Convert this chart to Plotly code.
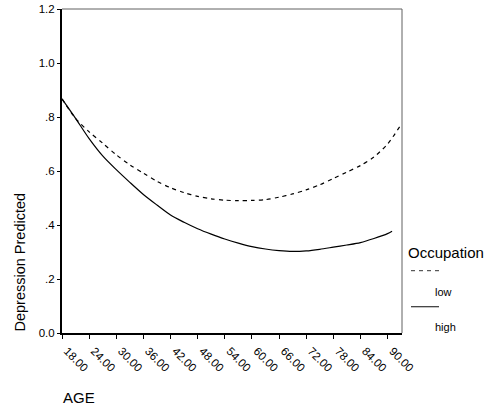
import plotly.graph_objects as go

# Predicted depression by age, for low and high occupation groups
age_low = [18, 21, 24, 27, 30, 33, 36, 39, 42, 45, 48, 51, 54, 57, 60, 63, 66, 69, 72, 75, 78, 81, 84, 87, 90, 93]
pred_low = [0.867, 0.795, 0.745, 0.703, 0.660, 0.623, 0.592, 0.562, 0.538, 0.520, 0.506, 0.497, 0.492, 0.490,
            0.491, 0.494, 0.503, 0.515, 0.530, 0.549, 0.572, 0.596, 0.620, 0.652, 0.700, 0.772]

age_high = [18, 21, 24, 27, 30, 33, 36, 39, 42, 45, 48, 51, 54, 57, 60, 63, 66, 69, 72, 75, 78, 81, 84, 87, 90, 91]
pred_high = [0.867, 0.795, 0.720, 0.656, 0.605, 0.558, 0.513, 0.474, 0.437, 0.410, 0.386, 0.366, 0.348, 0.333,
             0.320, 0.311, 0.305, 0.302, 0.304, 0.310, 0.318, 0.326, 0.335, 0.350, 0.368, 0.377]

x_ticks = [18, 24, 30, 36, 42, 48, 54, 60, 66, 72, 78, 84, 90]
x_tick_text = [f"{v:.2f}" for v in x_ticks]
y_ticks = [0.0, 0.2, 0.4, 0.6, 0.8, 1.0, 1.2]
y_tick_text = ["0.0", ".2", ".4", ".6", ".8", "1.0", "1.2"]

FONT = "Liberation Sans, Arial, sans-serif"

fig = go.Figure()
fig.add_trace(go.Scatter(
    x=age_low, y=pred_low, mode="lines", name="low",
    line=dict(color="black", width=1.2, dash="4px,4px", shape="spline", smoothing=0.8),
))
fig.add_trace(go.Scatter(
    x=age_high, y=pred_high, mode="lines", name="high",
    line=dict(color="black", width=1.2, shape="spline", smoothing=0.8),
))

W, H = 489, 410
ML, MR, MT, MB = 62, 87, 9, 77

fig.update_layout(
    width=W, height=H,
    margin=dict(l=ML, r=MR, t=MT, b=MB, pad=0),
    paper_bgcolor="white", plot_bgcolor="white",
    showlegend=False,
    font=dict(family=FONT, color="black", size=11),
    xaxis=dict(
        range=[18, 93.2], tickvals=x_ticks, ticktext=x_tick_text, tickangle=45,
        ticks="outside", ticklen=4, tickwidth=1, tickcolor="black",
        ticklabelshift=5, ticklabelstandoff=1,
        showline=True, linecolor="black", linewidth=2,
        showgrid=False, zeroline=False, automargin=False,
        tickfont=dict(size=11.5, family=FONT),
    ),
    yaxis=dict(
        range=[0, 1.2], tickvals=y_ticks, ticktext=y_tick_text,
        ticks="outside", ticklen=3, tickwidth=1, tickcolor="black",
        showline=True, linecolor="black", linewidth=2,
        showgrid=False, zeroline=False, automargin=False,
        tickfont=dict(size=11.5, family=FONT),
    ),
)

# Thin grey frame on the top and right of the plot area
fig.add_shape(type="line", xref="paper", yref="paper", x0=0, x1=1, y0=1, y1=1,
              line=dict(color="#606060", width=1))
fig.add_shape(type="line", xref="paper", yref="paper", x0=1, x1=1, y0=0, y1=1,
              line=dict(color="#606060", width=1))

pw = W - ML - MR
ph = H - MT - MB


def px_x(px):
    return (px - ML) / pw


def px_y(py):
    return (H - MB - py) / ph


# Axis titles
fig.add_annotation(text="Depression Predicted", textangle=-90, xref="paper", yref="paper",
                   x=px_x(19), y=px_y(334), xanchor="center", yanchor="bottom",
                   showarrow=False, font=dict(size=14.5, family=FONT))
fig.add_annotation(text="AGE", xref="paper", yref="paper",
                   x=px_x(61), y=px_y(397.5), xanchor="left", yanchor="middle",
                   showarrow=False, font=dict(size=15, family=FONT))

# Legend: title, line samples with labels beneath
fig.add_annotation(text="Occupation", xref="paper", yref="paper",
                   x=px_x(406), y=px_y(252), xanchor="left", yanchor="middle",
                   showarrow=False, font=dict(size=15, family=FONT))
fig.add_shape(type="line", xref="paper", yref="paper",
              x0=px_x(411), x1=px_x(440), y0=px_y(270.7), y1=px_y(270.7),
              line=dict(color="#333333", width=1, dash="4px,4px"))
fig.add_annotation(text="low", xref="paper", yref="paper",
                   x=px_x(433.5), y=px_y(292), xanchor="left", yanchor="middle",
                   showarrow=False, font=dict(size=11, family=FONT))
fig.add_shape(type="line", xref="paper", yref="paper",
              x0=px_x(411), x1=px_x(439), y0=px_y(306.7), y1=px_y(306.7),
              line=dict(color="#333333", width=1.2))
fig.add_annotation(text="high", xref="paper", yref="paper",
                   x=px_x(433.5), y=px_y(327), xanchor="left", yanchor="middle",
                   showarrow=False, font=dict(size=11, family=FONT))

fig.write_html("out.html")
